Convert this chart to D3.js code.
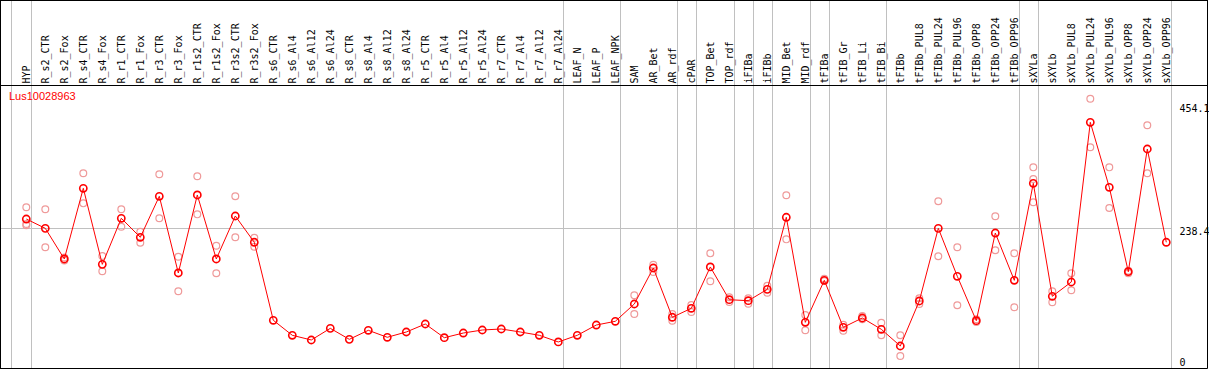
<!DOCTYPE html>
<html>
<meta charset=utf-8>
<head>
<script src="https://d3js.org/d3.v7.min.js"></script>
<style>
  body { margin: 0; background: #fff; }
  .lbl { font: 10px "DejaVu Sans Mono", monospace; fill: #000; }
  .ylbl { font: 10px "DejaVu Sans Mono", monospace; fill: #000; }
  .gene { font: 11px "Liberation Sans", Arial, sans-serif; fill: #f00; }
</style>
</head>
<body>
<script>

var geneName = "Lus10028963";

var categories = ["HYP","R_s2_CTR","R_s2_Fox","R_s4_CTR","R_s4_Fox","R_r1_CTR","R_r1_Fox","R_r3_CTR","R_r3_Fox",
  "R_r1s2_CTR","R_r1s2_Fox","R_r3s2_CTR","R_r3s2_Fox","R_s6_CTR","R_s6_Al4","R_s6_Al12","R_s6_Al24",
  "R_s8_CTR","R_s8_Al4","R_s8_Al12","R_s8_Al24","R_r5_CTR","R_r5_Al4","R_r5_Al12","R_r5_Al24",
  "R_r7_CTR","R_r7_Al4","R_r7_Al12","R_r7_Al24","LEAF_N","LEAF_P","LEAF_NPK","SAM","AR_Bet","AR_rdf",
  "cPAR","TOP_Bet","TOP_rdf","iFIBa","iFIBb","MID_Bet","MID_rdf","tFIBa","tFIB_Gr","tFIB_Li","tFIB_Bi",
  "tFIBb","tFIBb_PUL8","tFIBb_PUL24","tFIBb_PUL96","tFIBb_OPP8","tFIBb_OPP24","tFIBb_OPP96",
  "sXYLa","sXYLb","sXYLb_PUL8","sXYLb_PUL24","sXYLb_PUL96","sXYLb_OPP8","sXYLb_OPP24","sXYLb_OPP96"];

// mean expression (red line)
var means = [253.9, 238.4, 187.4, 305.0, 178.5, 255.1, 223.5, 291.7, 164.1,
  293.9, 187.4, 258.9, 215.2, 85.4, 60.4, 52.6, 72.0,
  53.7, 68.7, 57.1, 65.9, 79.2, 56.4, 64.2, 69.2,
  70.9, 65.9, 60.4, 49.3, 60.4, 77.5, 83.7, 112.5, 172.4, 90.4,
  105.3, 174.1, 119.6, 118.0, 136.9, 256.8, 82.0, 151.9, 73.7, 89.2, 70.4,
  42.6, 117.5, 238.4, 158.6, 84.7, 230.6, 151.9,
  313.3, 125.3, 149.1, 414.8, 306.7, 166.2, 370.4, 215.2];

// replicates (pale circles)
var reps = [[273.4, 245.6, 243.4], [270.1, 206.8], [189.9, 184.9], [330.0, 280.0], [192.4, 166.9],
  [270.1, 241.1], [232.8, 214.5], [328.3, 255.1], [191.2, 133.6],
  [325.0, 261.7], [209.5, 163.6], [291.7, 223.5], [222.8, 207.8], [], [], [], [],
  [], [], [], [], [], [], [], [],
  [], [], [], [], [], [], [], [127.0, 95.8], [177.9, 165.7], [95.8, 84.7],
  [110.8, 99.2], [196.8, 150.3], [123.6, 115.8], [122.0, 113.0], [142.9, 131.3], [293.4, 220.1], [94.2, 68.7],
  [154.6, 150.8], [78.0, 68.1], [92.5, 87.0], [81.4, 60.4],
  [60.4, 26.0], [122.0, 112.5], [283.4, 191.9], [206.8, 110.3], [87.0, 82.5], [258.4, 201.8], [196.8, 107.0],
  [339.9, 320.5, 281.7], [133.6, 115.3], [163.6, 135.3], [454.1, 373.2], [339.9, 272.2], [167.9, 163.6],
  [409.8, 330.0], []];

// last column of each sample group
var groupEnds = ["HYP","R_r7_Al24","LEAF_NPK","AR_rdf","cPAR","TOP_rdf","iFIBa","iFIBb","MID_rdf",
  "tFIBa","tFIB_Bi","tFIBb_OPP96","sXYLa","sXYLb_OPP96"];

var yTicks = [0, 238.4, 454.1];
var gridTicks = [238.4];

var W = 1209, H = 370;
var headerY = 85.5, bottomY = 368.5, rightX = 1207.5;

var svg = d3.select("body").append("svg")
  .attr("width", W).attr("height", H);

var x = d3.scalePoint().domain(categories).range([26.3, 1166.3]);
var step = x.step();
var y = d3.scaleLinear().domain([0, 454.1]).range([371.6, 98.7]);

var sepX = [x(categories[0]) - step + 3.4].concat(groupEnds.map(function(c){ return x(c) + 4.4; }));

// group separators
svg.selectAll(".sep").data(sepX).enter().append("line")
  .attr("class", "sep")
  .attr("x1", function(d){ return Math.round(d) + 0.5; })
  .attr("x2", function(d){ return Math.round(d) + 0.5; })
  .attr("y1", 0).attr("y2", bottomY)
  .attr("stroke", "#c0c0c0").attr("stroke-width", 1);

var plotRight = Math.round(sepX[sepX.length - 1]) + 0.5;

// horizontal grid
svg.selectAll(".grid").data(gridTicks).enter().append("line")
  .attr("class", "grid")
  .attr("x1", 1).attr("x2", plotRight)
  .attr("y1", function(d){ return Math.round(y(d)) + 0.5; })
  .attr("y2", function(d){ return Math.round(y(d)) + 0.5; })
  .attr("stroke", "#c0c0c0").attr("stroke-width", 1);

// frame
svg.append("line").attr("x1", 0).attr("x2", rightX).attr("y1", 0.5).attr("y2", 0.5).attr("stroke", "#000");
svg.append("line").attr("x1", 0).attr("x2", rightX).attr("y1", headerY).attr("y2", headerY).attr("stroke", "#000");
svg.append("line").attr("x1", 0).attr("x2", rightX).attr("y1", bottomY).attr("y2", bottomY).attr("stroke", "#000");
svg.append("line").attr("x1", 0.5).attr("x2", 0.5).attr("y1", 0).attr("y2", bottomY).attr("stroke", "#000");
svg.append("line").attr("x1", rightX).attr("x2", rightX).attr("y1", 0).attr("y2", bottomY).attr("stroke", "#000");

// column labels
svg.selectAll(".lbl").data(categories).enter().append("text")
  .attr("class", "lbl")
  .attr("transform", function(d){ return "translate(" + (x(d) + 4) + "," + (headerY - 2) + ") rotate(-90)"; })
  .text(function(d){ return d; });

// y labels on the right
svg.selectAll(".ylbl").data(yTicks).enter().append("text")
  .attr("class", "ylbl")
  .attr("x", plotRight + 8)
  .attr("y", function(d){ return Math.max(headerY + 26, Math.min(bottomY - 3, y(d) + 7)); })
  .text(function(d){ return d; });

// gene name
svg.append("text").attr("class", "gene")
  .attr("x", 9).attr("y", 99.5)
  .text(geneName);

// replicate points
var repPts = [];
reps.forEach(function(r, i){ r.forEach(function(v){ repPts.push([categories[i], v]); }); });

svg.selectAll(".rep").data(repPts).enter().append("circle")
  .attr("class", "rep")
  .attr("cx", function(d){ return x(d[0]); })
  .attr("cy", function(d){ return y(d[1]); })
  .attr("r", 3.4)
  .attr("fill", "none")
  .attr("stroke", "#ef9a9a")
  .attr("stroke-width", 1.2);

// mean line
var line = d3.line()
  .x(function(d, i){ return x(categories[i]); })
  .y(function(d){ return y(d); });

svg.append("path").datum(means)
  .attr("d", line)
  .attr("fill", "none")
  .attr("stroke", "#f00")
  .attr("stroke-width", 1);

svg.selectAll(".mean").data(means).enter().append("circle")
  .attr("class", "mean")
  .attr("cx", function(d, i){ return x(categories[i]); })
  .attr("cy", function(d){ return y(d); })
  .attr("r", 3.6)
  .attr("fill", "none")
  .attr("stroke", "#f00")
  .attr("stroke-width", 1.6);

</script>
</body>
</html>
